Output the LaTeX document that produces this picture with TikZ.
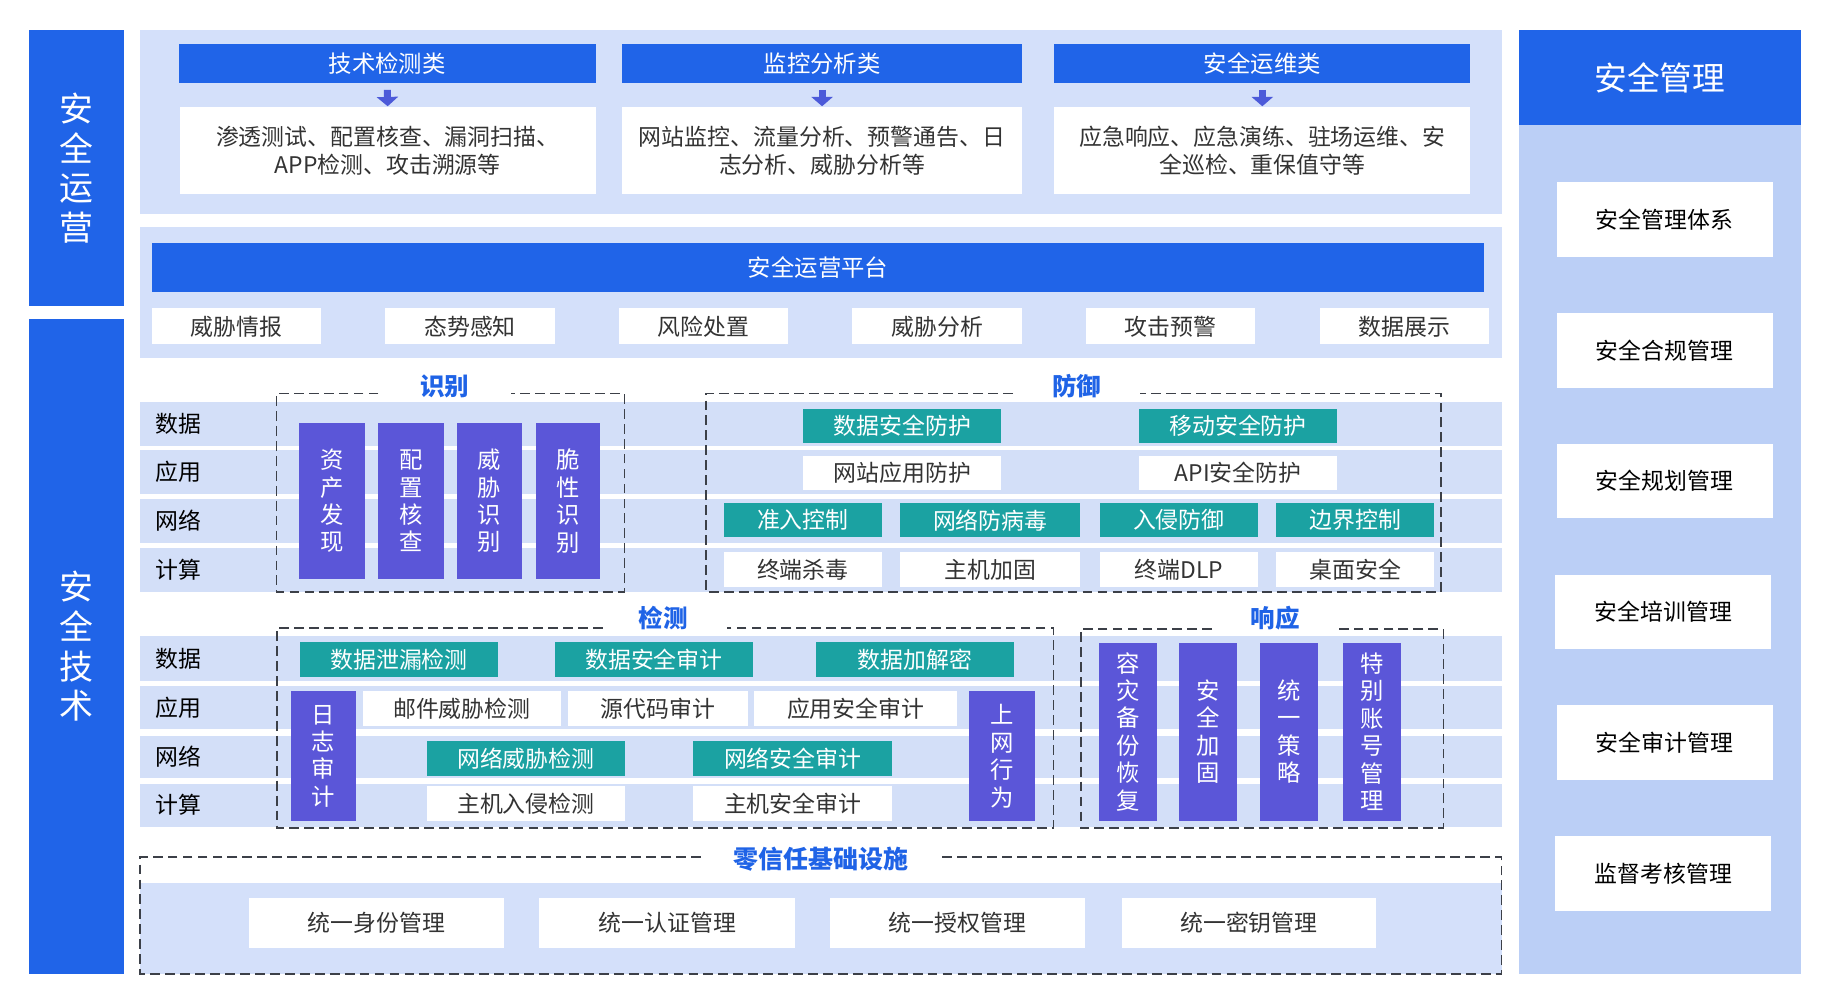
\documentclass[tikz,border=0pt]{standalone}
\usepackage{fontspec}
\setmainfont{Noto Sans CJK SC}
\usetikzlibrary{arrows.meta}
\definecolor{mainblue}{HTML}{2064E8}
\definecolor{panelbg}{HTML}{D4E0FA}
\definecolor{stripbg}{HTML}{D3DFF8}
\definecolor{rightbg}{HTML}{BBCFF6}
\definecolor{purp}{HTML}{5B56D8}
\definecolor{tealc}{HTML}{1BA2A2}
\definecolor{titleblue}{HTML}{1F63E6}
\definecolor{txt}{HTML}{333333}
\definecolor{dashc}{HTML}{3C4048}
\definecolor{arrowc}{HTML}{4C5AD9}
\newcommand\bx[7]{\node[#6, minimum width={((#4)-(#2))*0.5pt}, minimum height={((#5)-(#3))*0.5pt}] (#1) at ({((#2)+(#4))/2},{((#3)+(#5))/2}) {#7};}
\tikzset{
  box/.style={inner sep=0pt, outer sep=0pt, align=center},
  bluebar/.style={box, fill=mainblue, text=white},
  panel/.style={box, fill=panelbg},
  strip/.style={box, fill=stripbg},
  hdr/.style={box, fill=mainblue, text=white, font=\fontsize{10}{12}\selectfont},
  desc/.style={box, fill=white, text=txt, font=\fontsize{9.8}{12}\selectfont},
  wbox/.style={box, fill=white, text=txt, font=\fontsize{9.8}{12}\selectfont},
  tbox/.style={box, fill=tealc, text=white, font=\fontsize{9.8}{12}\selectfont},
  pbox/.style={box, fill=purp, text=white, font=\fontsize{10}{11.75}\selectfont},
  lbl/.style={inner sep=0pt, anchor=west, text=black, font=\fontsize{9.8}{12}\selectfont},
  sectitle/.style={inner sep=0pt, text=titleblue, font=\fontsize{10.5}{12}\selectfont\bfseries},
  dashbox/.style={draw=dashc, line width=0.65pt, dash pattern=on 4.2pt off 2.2pt},
  downarrow/.style={draw=arrowc, line width=3pt, -{Triangle[width=9pt,length=4pt]}, shorten <=3pt, shorten >=0.5pt},
}
\begin{document}
\begin{tikzpicture}[x=0.5pt, y=-0.5pt]
\useasboundingbox (0,0) rectangle (1568,860.6);
% left bars
\bx{lop}{25}{26}{106}{262}{bluebar, font=\fontsize{14.5}{17}\selectfont}{安\\全\\运\\营}
\bx{ltech}{25}{273}{106}{834}{bluebar, font=\fontsize{14.5}{17}\selectfont}{安\\全\\技\\术}
% top panel
\bx{toppanel}{120}{26}{1286}{183}{panel}{}
\bx{h1}{153}{38}{510}{71}{hdr}{技术检测类}
\bx{h2}{533}{38}{875}{71}{hdr}{监控分析类}
\bx{h3}{903}{38}{1259}{71}{hdr}{安全运维类}
\bx{d1}{154}{92}{510}{166}{desc}{渗透测试、配置核查、漏洞扫描、\\APP检测、攻击溯源等}
\bx{d2}{533}{92}{875}{166}{desc}{网站监控、流量分析、预警通告、日\\志分析、威胁分析等}
\bx{d3}{903}{92}{1259}{166}{desc}{应急响应、应急演练、驻场运维、安\\全巡检、重保值守等}
\draw[downarrow] (h1.south) -- (d1.north);
\draw[downarrow] (h2.south) -- (d2.north);
\draw[downarrow] (h3.south) -- (d3.north);
% platform panel
\bx{platpanel}{120}{194}{1286}{307}{panel}{}
\bx{plat}{130}{208}{1271}{250}{hdr}{安全运营平台}
\bx{p1}{130}{264}{275}{295}{wbox}{威胁情报}
\bx{p2}{330}{264}{475}{295}{wbox}{态势感知}
\bx{p3}{530}{264}{675}{295}{wbox}{风险处置}
\bx{p4}{730}{264}{875}{295}{wbox}{威胁分析}
\bx{p5}{930}{264}{1075}{295}{wbox}{攻击预警}
\bx{p6}{1130}{264}{1275}{295}{wbox}{数据展示}
% strips group 1
\bx{sa1}{120}{344}{1286}{382}{strip}{}
\bx{sa2}{120}{385}{1286}{423}{strip}{}
\bx{sa3}{120}{427}{1286}{465}{strip}{}
\bx{sa4}{120}{469}{1286}{507}{strip}{}
\node[lbl] (la1) at (133,363) {数据};
\node[lbl] (la2) at (133,404) {应用};
\node[lbl] (la3) at (133,446) {网络};
\node[lbl] (la4) at (133,488) {计算};
% strips group 2
\bx{sb1}{120}{545}{1286}{583}{strip}{}
\bx{sb2}{120}{587.5}{1286}{624}{strip}{}
\bx{sb3}{120}{630}{1286}{666}{strip}{}
\bx{sb4}{120}{671}{1286}{708}{strip}{}
\node[lbl] (lb1) at (133,564) {数据};
\node[lbl] (lb2) at (133,606) {应用};
\node[lbl] (lb3) at (133,648) {网络};
\node[lbl] (lb4) at (133,689) {计算};
% identify
\draw[dashbox] (324,337) -| (236.6,507) -| (534.7,337) -- (438,337);
\node[sectitle] (tid) at (381,331) {识别};
\bx{id1}{256}{362}{312.7}{496}{pbox}{资\\产\\发\\现}
\bx{id2}{323.7}{362}{380}{496}{pbox}{配\\置\\核\\查}
\bx{id3}{391.6}{362}{446.6}{496}{pbox}{威\\胁\\识\\别}
\bx{id4}{459}{362}{514}{496}{pbox}{脆\\性\\识\\别}
% defense
\draw[dashbox] (867.5,337) -| (604.7,507) -| (1234,337) -- (976,337);
\node[sectitle] (tdf) at (922,331) {防御};
\bx{df1}{688}{350}{857.5}{379.5}{tbox}{数据安全防护}
\bx{df2}{975.5}{350}{1145}{379.5}{tbox}{移动安全防护}
\bx{df3}{688}{390.7}{857.5}{419.6}{wbox}{网站应用防护}
\bx{df4}{975.5}{390.7}{1145}{419.6}{wbox}{API安全防护}
\bx{df5}{620}{431}{755}{460}{tbox}{准入控制}
\bx{df6}{771}{431}{925}{460}{tbox}{网络防病毒}
\bx{df7}{942}{431}{1077}{460}{tbox}{入侵防御}
\bx{df8}{1093}{431}{1228}{460}{tbox}{边界控制}
\bx{df9}{620}{473}{755}{502.6}{wbox}{终端杀毒}
\bx{df10}{771}{473}{925}{502.6}{wbox}{主机加固}
\bx{df11}{942}{473}{1077}{502.6}{wbox}{终端DLP}
\bx{df12}{1093}{473}{1228}{502.6}{wbox}{桌面安全}
% detect
\draw[dashbox] (516,538) -| (237,709) -| (902,538) -- (622.6,538);
\node[sectitle] (tdt) at (568,529) {检测};
\bx{dt1}{257}{550}{426.5}{579.6}{tbox}{数据泄漏检测}
\bx{dt2}{475}{550}{645}{579.6}{tbox}{数据安全审计}
\bx{dt3}{699}{550}{868}{579.6}{tbox}{数据加解密}
\bx{dt4}{249}{592}{305}{703}{pbox}{日\\志\\审\\计}
\bx{dt5}{830}{592}{886}{703}{pbox}{上\\网\\行\\为}
\bx{dt6}{311}{592}{480}{621.7}{wbox}{邮件威胁检测}
\bx{dt7}{486.6}{592}{640.6}{621.7}{wbox}{源代码审计}
\bx{dt8}{646}{592}{819.6}{621.7}{wbox}{应用安全审计}
\bx{dt9}{365.6}{634.6}{535}{664.6}{tbox}{网络威胁检测}
\bx{dt10}{593.6}{634.6}{764}{664.6}{tbox}{网络安全审计}
\bx{dt11}{365.6}{673}{535}{703}{wbox}{主机入侵检测}
\bx{dt12}{593.6}{673}{764}{703}{wbox}{主机安全审计}
% respond
\draw[dashbox] (1038,538.7) -| (925.5,709) -| (1236,538.7) -- (1145,538.7);
\node[sectitle] (trs) at (1092,529) {响应};
\bx{rs1}{941}{550.4}{990.6}{702.8}{pbox}{容\\灾\\备\\份\\恢\\复}
\bx{rs2}{1009.7}{550.4}{1059}{702.8}{pbox}{安\\全\\加\\固}
\bx{rs3}{1079}{550.4}{1128.5}{702.8}{pbox}{统\\一\\策\\略}
\bx{rs4}{1150}{550.4}{1199.5}{702.8}{pbox}{特\\别\\账\\号\\管\\理}
% zero trust
\bx{ztfill}{120}{756}{1286}{834}{panel}{}
\draw[dashbox] (600,734) -| (120,834) -| (1286,734) -- (805,734);
\node[sectitle, font=\fontsize{10.7}{12}\selectfont\bfseries] (tzt) at (703,736) {零信任基础设施};
\bx{zt1}{213}{769}{432}{812}{wbox}{统一身份管理}
\bx{zt2}{462}{769}{681}{812}{wbox}{统一认证管理}
\bx{zt3}{711}{769}{929}{812}{wbox}{统一授权管理}
\bx{zt4}{961}{769}{1178}{812}{wbox}{统一密钥管理}
% management
\bx{mg}{1301}{26}{1542}{834}{box, fill=rightbg}{}
\bx{mgh}{1301}{26}{1542}{107}{bluebar, font=\fontsize{14}{16}\selectfont}{安全管理}
\bx{m1}{1333}{156}{1518}{220}{wbox, text=black}{安全管理体系}
\bx{m2}{1333}{268}{1518}{332}{wbox, text=black}{安全合规管理}
\bx{m3}{1333}{380}{1518}{444}{wbox, text=black}{安全规划管理}
\bx{m4}{1332}{492}{1517}{556}{wbox, text=black}{安全培训管理}
\bx{m5}{1333}{604}{1518}{668}{wbox, text=black}{安全审计管理}
\bx{m6}{1332}{716}{1517}{780}{wbox, text=black}{监督考核管理}
\end{tikzpicture}
\end{document}
